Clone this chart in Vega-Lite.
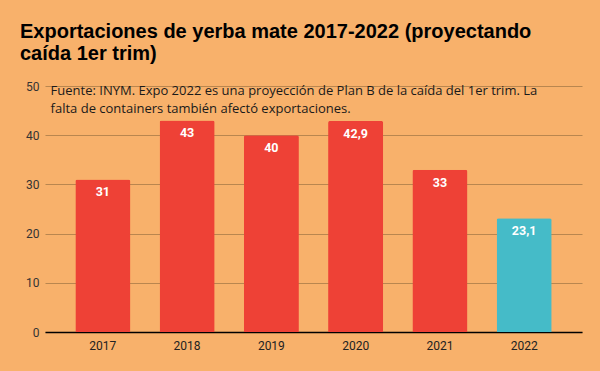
{
  "$schema": "https://vega.github.io/schema/vega-lite/v6.json",
  "autosize": "none",
  "width": 537,
  "height": 246,
  "padding": {"left": 45, "top": 86, "right": 18, "bottom": 39},
  "background": "#F8B16B",
  "config": {
    "view": {"stroke": null},
    "font": "Roboto"
  },
  "title": {
    "text": ["Exportaciones de yerba mate 2017-2022 (proyectando", "caída 1er trim)"],
    "anchor": "start",
    "frame": "group",
    "dx": -25,
    "offset": 16,
    "font": "Liberation Sans",
    "fontSize": 20,
    "fontWeight": "bold",
    "color": "#000000",
    "lineHeight": 22
  },
  "datasets": {
    "bars": [
      {"year": "2017", "value": 31, "label": "31", "kind": "real"},
      {"year": "2018", "value": 43, "label": "43", "kind": "real"},
      {"year": "2019", "value": 40, "label": "40", "kind": "real"},
      {"year": "2020", "value": 42.9, "label": "42,9", "kind": "real"},
      {"year": "2021", "value": 33, "label": "33", "kind": "real"},
      {"year": "2022", "value": 23.1, "label": "23,1", "kind": "proy"}
    ],
    "note": [
      {"year": "2017", "value": 50, "text": "Fuente: INYM. Expo 2022 es una proyección de Plan B de la caída del 1er trim. La\nfalta de containers también afectó exportaciones."}
    ]
  },
  "layer": [
    {
      "data": {"name": "bars"},
      "mark": {"type": "bar", "cornerRadiusEnd": 2},
      "encoding": {
        "x": {
          "field": "year", "type": "nominal", "sort": null,
          "scale": {"paddingInner": 0.347, "paddingOuter": 0.36},
          "axis": {
            "title": null, "labelAngle": 0, "domainColor": "#000000", "domainWidth": 1.5,
            "ticks": false, "labelPadding": 8, "labelFontSize": 12, "labelColor": "#222222",
            "labelFont": "Roboto"
          }
        },
        "y": {
          "field": "value", "type": "quantitative",
          "scale": {"domain": [0, 50]},
          "axis": {
            "title": null, "values": [0, 10, 20, 30, 40, 50], "domain": false, "ticks": false,
            "gridColor": "#B9864F", "gridWidth": 1, "labelPadding": 6, "labelFontSize": 12,
            "labelColor": "#333333", "labelFont": "Roboto"
          }
        },
        "color": {
          "field": "kind", "type": "nominal",
          "scale": {"domain": ["real", "proy"], "range": ["#EE4136", "#45BBC8"]},
          "legend": null
        }
      }
    },
    {
      "data": {"name": "bars"},
      "mark": {"type": "text", "baseline": "top", "dy": 7, "color": "#FFFFFF", "fontWeight": "bold", "fontSize": 12.5, "font": "Roboto"},
      "encoding": {
        "x": {"field": "year", "type": "nominal", "sort": null},
        "y": {"field": "value", "type": "quantitative"},
        "text": {"field": "label"}
      }
    },
    {
      "data": {"name": "note"},
      "mark": {"type": "text", "align": "left", "baseline": "top", "lineBreak": "\n", "lineHeight": 18, "dy": -1, "font": "Open Sans", "fontSize": 13, "color": "#1A1A1A"},
      "encoding": {
        "x": {"field": "year", "type": "nominal", "sort": null, "bandPosition": -0.45},
        "y": {"field": "value", "type": "quantitative"},
        "text": {"field": "text"}
      }
    }
  ]
}
